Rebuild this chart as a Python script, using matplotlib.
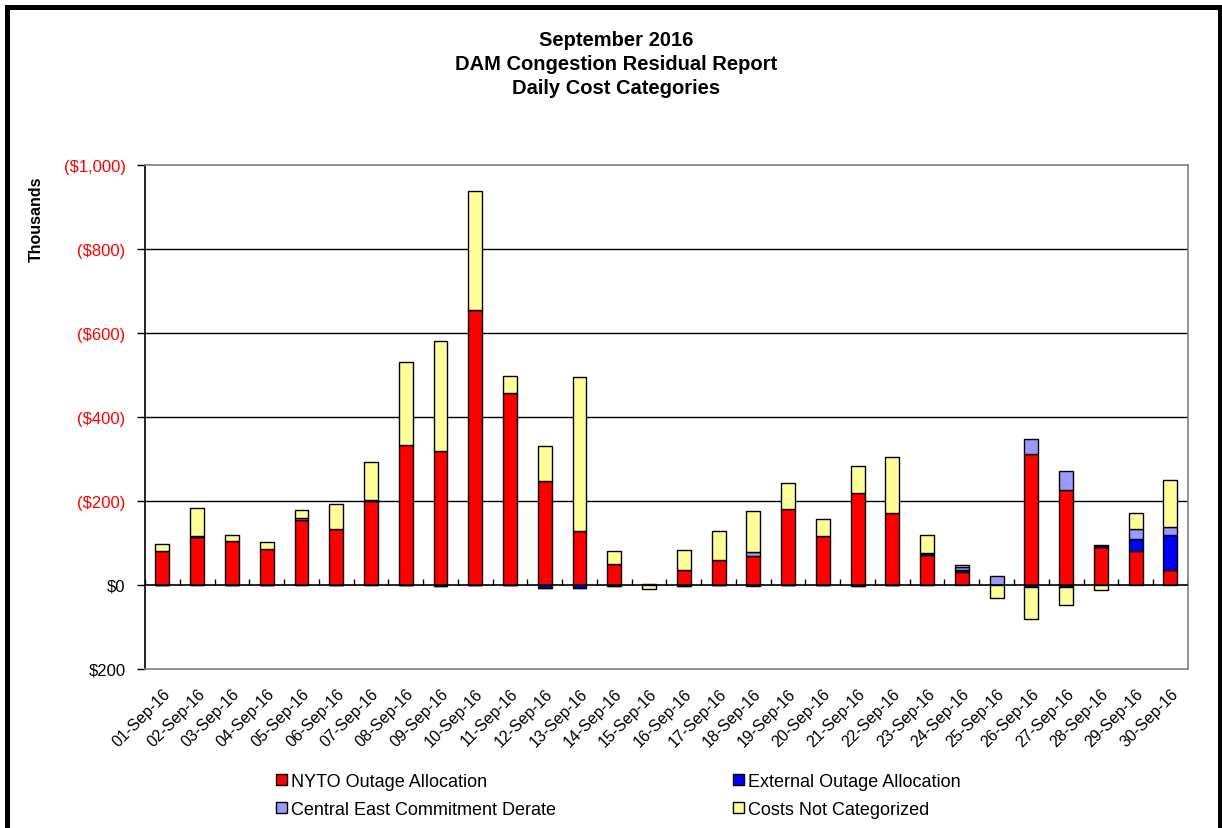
import numpy as np
import matplotlib
matplotlib.use("Agg")
import matplotlib.pyplot as plt
from matplotlib.patches import Rectangle
from matplotlib.ticker import FuncFormatter

plt.rcParams['font.family'] = ['Liberation Sans', 'DejaVu Sans']

# daily values in $ thousands (negative = cost, drawn upward on the reversed axis)
days = ["%02d-Sep-16" % d for d in range(1, 31)]
nyto = [-81, -114, -104, -85, -155, -133, -199, -334, -319, -655,
        -456, -248, -129, -49, -3, -36, -59, -68, -180, -117,
        -218, -171, -71, -32, 0, -312, -226, -90, -80, -36]
external = [0, -3, 0, 0, 0, 0, -4, 0, 2, 0,
            0, 6, 8, 2, 0, 2, 0, 2, 0, 0,
            2, 0, -4, -3, 0, 5, 5, -5, -30, -84]
central_east = [0, 0, 0, 0, -4, 0, 0, 0, 0, 0,
                0, 0, 0, 0, 0, 0, 0, -10, 0, 0,
                0, 0, 0, -9, -21, -36, -45, 0, -24, -17]
not_categorized = [-17, -67, -16, -17, -19, -61, -90, -197, -262, -283,
                   -42, -84, -365, -33, 9, -47, -70, -99, -64, -41,
                   -65, -134, -45, -3, 31, 76, 42, 11, -38, -112]

series = [
    ("NYTO Outage Allocation", nyto, "#FF0000"),
    ("External Outage Allocation", external, "#0000FF"),
    ("Central East Commitment Derate", central_east, "#9999FF"),
    ("Costs Not Categorized", not_categorized, "#FFFF99"),
]

fig = plt.figure(figsize=(12.22, 8.29), dpi=100)
ax = fig.add_axes([0.1187, 0.1918, 0.8533, 0.608])

x = np.arange(len(days))
pos_base = np.zeros(len(days))
neg_base = np.zeros(len(days))
bars = {}
for name, vals, color in series:
    v = np.array(vals, dtype=float)
    bottom = np.where(v < 0, neg_base, pos_base)
    bars[name] = ax.bar(x, v, width=0.4, bottom=bottom, color=color,
                        edgecolor="black", linewidth=1.0, zorder=3)
    neg_base += np.where(v < 0, v, 0)
    pos_base += np.where(v > 0, v, 0)

ax.set_xlim(-0.5, len(days) - 0.5)
ax.set_ylim(200, -1000)

# gridlines and zero line
for g in [-200, -400, -600, -800]:
    ax.axhline(g, color="black", linewidth=1.0, zorder=1)
ax.axhline(0, color="black", linewidth=1.2, zorder=4)
ax.vlines(np.arange(len(days) + 1) - 0.5, 0, -14, color="black", linewidth=1.0, zorder=4)

for s in ["top", "right", "bottom"]:
    ax.spines[s].set_color("#808080")
    ax.spines[s].set_linewidth(1.2)
ax.spines["left"].set_color("black")
ax.spines["left"].set_linewidth(1.2)

def money(v, pos):
    if v < 0:
        return "(${:,.0f})".format(-v)
    return "${:,.0f}".format(v)

ax.set_yticks([-1000, -800, -600, -400, -200, 0, 200])
ax.yaxis.set_major_formatter(FuncFormatter(money))
ax.tick_params(axis="y", direction="out", length=6, width=1, labelsize=12, pad=8)
for lab, val in zip(ax.get_yticklabels(), [-1000, -800, -600, -400, -200, 0, 200]):
    lab.set_color("#FF0000" if val < 0 else "black")

ax.set_xticks(x)
ax.set_xticklabels(days, rotation=45, ha="right", rotation_mode="anchor", fontsize=11.5)
ax.tick_params(axis="x", length=0, pad=12)

title_kw = dict(ha="center", va="center", fontsize=14.5, fontweight="bold")
fig.text(0.504, 0.951, "September 2016", **title_kw)
fig.text(0.504, 0.922, "DAM Congestion Residual Report", **title_kw)
fig.text(0.504, 0.893, "Daily Cost Categories", **title_kw)
fig.text(0.030, 0.735, "Thousands", rotation=90, ha="center", va="center", fontsize=11.5, fontweight="bold")

order = ["NYTO Outage Allocation", "Central East Commitment Derate",
         "External Outage Allocation", "Costs Not Categorized"]
fig.legend([bars[n] for n in order], order, ncol=2, loc="center left",
           bbox_to_anchor=(0.220, 0.0395), frameon=False, fontsize=13,
           handlelength=0.6, handleheight=0.6, handletextpad=0.2,
           columnspacing=9.85, labelspacing=0.62, borderaxespad=0)

fig.patches.append(Rectangle((0.0061, -0.05), 0.992, 1.04, transform=fig.transFigure,
                             fill=False, edgecolor="black", linewidth=3.6))

fig.savefig("out.png", dpi=100, facecolor="white")
